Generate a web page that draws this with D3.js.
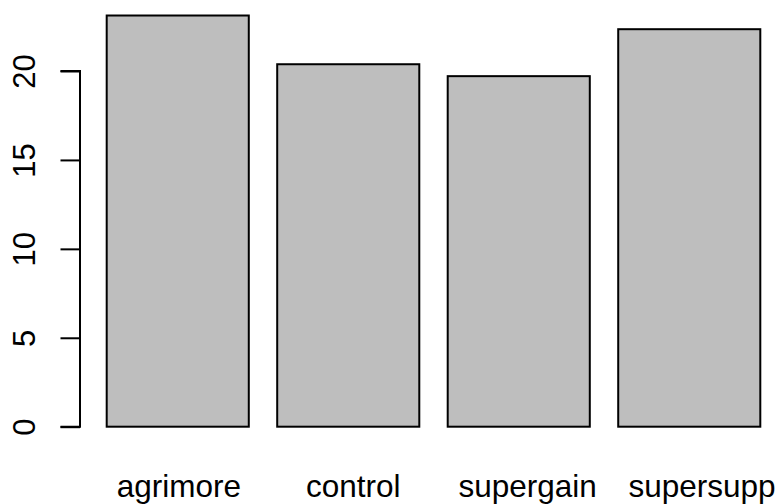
<!DOCTYPE html>
<html>
<head>
<meta charset="utf-8">
<script src="https://cdn.jsdelivr.net/npm/d3@7"></script>
<style>
  html, body { margin: 0; padding: 0; background: #fff; }
  svg { display: block; font-family: "Liberation Sans", Arial, Helvetica, sans-serif; }
</style>
</head>
<body>
<svg id="chart" width="778" height="504"></svg>
<script>
// Mean weight gain by supplement
const categories = ["agrimore", "control", "supergain", "supersupp"];
const values = [23.12, 20.38, 19.71, 22.35];
const yTicks = [0, 5, 10, 15, 20];

const svg = d3.select("#chart");

// Bars of width 1 separated by 0.2 gaps, as in a base barplot
const barWidth = 1, space = 0.2;
const left = i => space + i * (barWidth + space);
const mid = i => left(i) + barWidth / 2;

const x = d3.scaleLinear().domain([0.2, 4.8]).range([106.7, 760.3]);
// label positions along the bottom margin
const xLabel = d3.scaleLinear().domain([0.7, 4.3]).range([178.8, 702]);
const y = d3.scaleLinear().domain([0, 20]).range([426.7, 71]);

svg.append("g")
  .selectAll("rect")
  .data(values)
  .join("rect")
  .attr("x", (d, i) => x(left(i)))
  .attr("width", (d, i) => x(left(i) + barWidth) - x(left(i)))
  .attr("y", d => y(d))
  .attr("height", d => y(0) - y(d))
  .attr("fill", "#bebebe")
  .attr("stroke", "#000")
  .attr("stroke-width", 2);

// Y axis: line along the left edge, outward ticks, rotated labels
const axisX = 80;
const yAxis = d3.axisLeft(y).tickValues(yTicks).tickSize(19.5).tickPadding(0).tickFormat(d3.format("d"));
const gy = svg.append("g").attr("transform", `translate(${axisX},0)`).call(yAxis);
gy.select(".domain").attr("d", `M-19.5,${y(0)}H0V${y(20)}H-19.5`).attr("stroke", "#000").attr("stroke-width", 2).attr("fill", "none");
gy.selectAll(".tick line").attr("stroke", "#000").attr("stroke-width", 2);
gy.selectAll(".tick text")
  .attr("x", null).attr("dy", null)
  .attr("transform", "translate(-45.5,0) rotate(-90)")
  .attr("text-anchor", "middle")
  .attr("fill", "#000")
  .style("font-size", "31px")
  .style("font-family", "'Liberation Sans', Arial, sans-serif");

// Category labels under each bar
svg.append("g")
  .selectAll("text")
  .data(categories)
  .join("text")
  .attr("x", (d, i) => xLabel(mid(i)))
  .attr("y", 497)
  .attr("text-anchor", "middle")
  .attr("fill", "#000")
  .style("font-size", "31.5px")
  .text(d => d);
</script>
</body>
</html>
